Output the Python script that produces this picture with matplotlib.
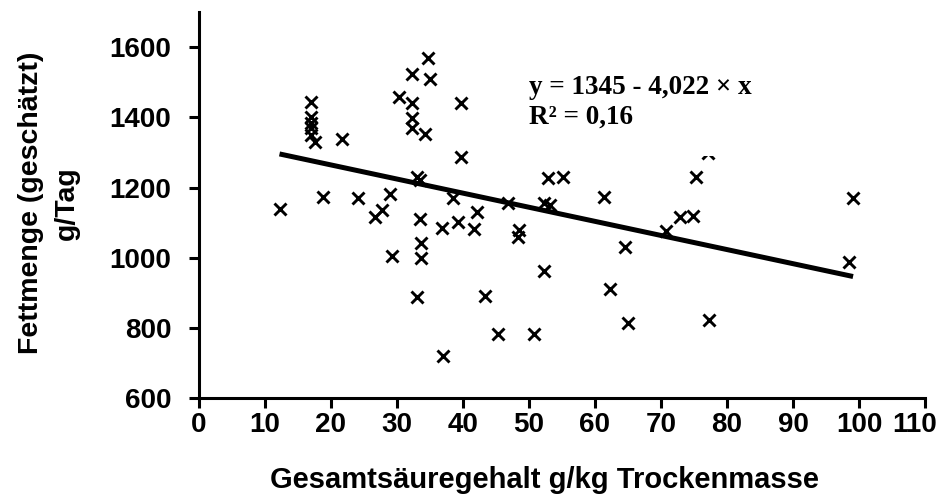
import matplotlib

matplotlib.use("Agg")
import matplotlib.pyplot as plt
import matplotlib.transforms as mtransforms
import numpy as np

# Gesamtsäuregehalt (g/kg TM) und geschätzte Fettmenge (g/Tag)
acid_g_kg = [
    12.2, 16.9, 16.9, 16.9, 16.9, 16.9, 17.6, 21.6, 18.8, 24.1,
    28.9, 27.8, 26.7, 30.3, 32.2, 34.7, 35.0, 32.2, 32.2, 32.2,
    34.2, 33.1, 33.5, 33.5, 36.8, 33.6, 33.6, 29.3, 33.0, 37.0,
    39.7, 39.7, 52.9, 55.1, 38.5, 42.1, 39.3, 41.6, 46.8, 48.5,
    48.4, 52.2, 53.2, 61.4, 64.5, 70.8, 72.9, 74.8, 75.3, 77.1,
    99.1, 98.5, 52.2, 62.3, 43.4, 45.3, 50.7, 65.0, 77.3,
]
fat_g_day = [
    1138, 1445, 1400, 1383, 1369, 1350, 1331, 1338, 1174, 1169,
    1182, 1136, 1115, 1459, 1523, 1569, 1509, 1442, 1398, 1369,
    1353, 1231, 1222, 1111, 1085, 1041, 1000, 1005, 887, 720,
    1442, 1288, 1226, 1229, 1169, 1131, 1101, 1082, 1155, 1079,
    1060, 1155, 1150, 1172, 1030, 1077, 1115, 1120, 1231, 1299,
    1169, 987, 963, 910, 891, 782, 783, 813, 822,
]

intercept = 1345.0
slope = -4.022

x_ticks = list(range(0, 111, 10))
y_ticks = list(range(600, 1601, 200))

plt.rcParams["font.family"] = ["Liberation Sans", "DejaVu Sans"]
plt.rcParams["font.weight"] = "bold"

fig = plt.figure(figsize=(9.43, 4.95), dpi=100)
ax = fig.add_axes([199 / 943, 1 - 398 / 495, 726 / 943, 1100 * 0.3507 / 495])

ax.plot(acid_g_kg, fat_g_day, ls="none", marker="x", ms=8.5, mew=2.1, color="black", zorder=2)

fit_x = np.array([min(acid_g_kg), max(acid_g_kg)])
ax.plot(fit_x, intercept + slope * fit_x, color="black", lw=3.6, solid_capstyle="butt", zorder=2)

ax.text(
    50, 1520, "y = 1345 - 4,022 \u00d7 x\nR\u00b2 = 0,16",
    family=["Liberation Serif", "DejaVu Serif"], fontweight="bold", fontsize=19.5,
    va="top", ha="left", linespacing=1.25,
    bbox=dict(fc="white", ec="none", pad=19), zorder=3,
)

ax.set_xlim(0, 110)
ax.set_ylim(600, 1700)
ax.set_xticks(x_ticks)
ax.set_yticks(y_ticks)
for s in ("top", "right"):
    ax.spines[s].set_visible(False)
for s in ("left", "bottom"):
    ax.spines[s].set_linewidth(2.2)
ax.tick_params(axis="both", direction="out", length=7, width=2.2, labelsize=20)
ax.tick_params(axis="x", pad=3)
ax.tick_params(axis="y", pad=13)
for lab in ax.get_xticklabels() + ax.get_yticklabels():
    lab.set_fontweight("bold")
# letzte Beschriftung etwas nach links, damit sie ins Bild passt
last = ax.get_xticklabels()[-1]
last.set_transform(last.get_transform() + mtransforms.ScaledTranslation(-10 / 100, 0, fig.dpi_scale_trans))

fig.text(545 / 943, 1 - 480 / 495, "Gesamtsäuregehalt g/kg Trockenmasse",
         ha="center", va="center", fontsize=21, fontweight="bold")
fig.text(49 / 943, 1 - 203 / 495, "Fettmenge (geschätzt)\ng/Tag",
         ha="center", va="center", rotation=90, multialignment="center",
         fontsize=20.5, fontweight="bold", linespacing=1.45)

fig.savefig("out.png", dpi=100)
